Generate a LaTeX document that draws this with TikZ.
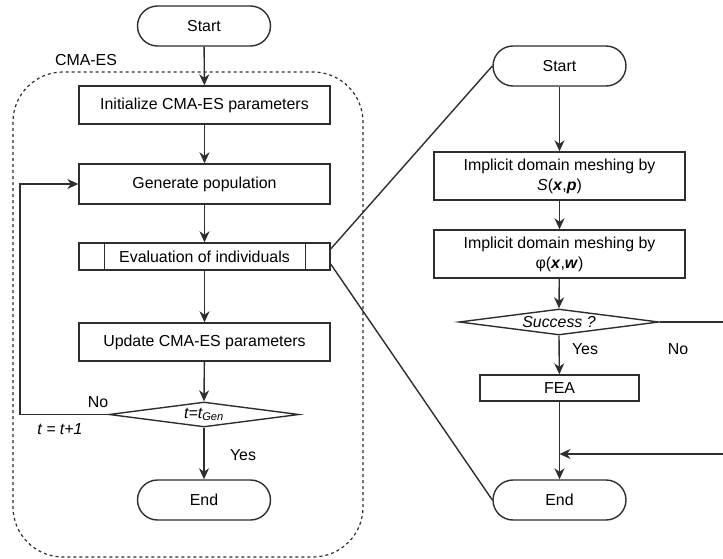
\documentclass[tikz,border=0pt]{standalone}
\usepackage{fontspec}
\setmainfont{Liberation Sans}
\usetikzlibrary{shapes.geometric,arrows.meta}
\begin{document}
\begin{tikzpicture}[x=1pt,y=-1pt,
 every node/.style={font=\fontsize{15.9}{20}\selectfont, text=black},
 ln/.style={draw=black!82, line width=1.4pt},
 arr/.style={ln, -{Stealth[length=11pt,width=10pt,inset=3.5pt]}},
 term/.style={ln, rectangle, rounded corners=20pt, minimum width=133pt, minimum height=40pt, inner sep=0pt},
 proc/.style={ln, rectangle, minimum width=251pt, minimum height=38pt, inner sep=0pt, align=center},
 dia/.style={ln, diamond, inner sep=0pt},
 lab/.style={inner sep=0pt},
]
\useasboundingbox (0,0) rectangle (723,559);
% container
\draw[draw=black!82, line width=1.2pt, dash pattern=on 3pt off 3pt, rounded corners=50pt] (13,72) rectangle (363,557);
\node[lab] (cma) at (86,60) {CMA-ES};
% left column
\node[term] (s1) at (204,26) {Start};
\node[proc] (init) at (204.5,105) {Initialize CMA-ES parameters};
\node[proc, minimum height=40pt] (gen) at (204.5,184) {Generate population};
\node[proc, minimum height=27pt] (eval) at (204.5,256.5) {Evaluation of individuals};
\draw[ln] ([xshift=26pt]eval.north west) -- ([xshift=26pt]eval.south west);
\draw[ln] ([xshift=-25pt]eval.north east) -- ([xshift=-25pt]eval.south east);
\node[proc] (upd) at (204.5,342) {Update CMA-ES parameters};
\node[dia, minimum width=190pt, minimum height=25pt] (d1) at (204,414.5) {};
\node[lab] (d1t) at (d1) {\textit{t=t\textsubscript{Gen}}};
\node[term] (end1) at (204,500) {End};
\coordinate (lp) at (20,414.5);
\draw[arr] (s1) -- (init);
\draw[arr] (init) -- (gen);
\draw[arr] (gen) -- (eval);
\draw[arr] (eval) -- (upd);
\draw[arr] (upd) -- (d1.north);
\draw[arr] (d1.south) -- (end1);
\draw[arr] (d1.west) -- (lp) |- (gen.west);
\node[lab] (no1) at (98,402) {No};
\node[lab] (tt) at (60,429) {\textit{t = t+1}};
\node[lab] (yes1) at (243,455) {Yes};
% right column
\node[term] (s2) at (559.5,66) {Start};
\node[proc, minimum height=48pt] (b1) at (559.5,176) {Implicit domain meshing by\\\textit{S}(\textbf{\textit{x}},\textbf{\textit{p}})};
\node[proc, minimum height=48pt] (b2) at (559.5,254) {Implicit domain meshing by\\φ(\textbf{\textit{x}},\textbf{\textit{w}})};
\node[dia, minimum width=200pt, minimum height=26pt] (d2) at (559,322) {};
\node[lab] (d2t) at (d2) {\textit{Success ?}};
\node[proc, minimum width=159pt, minimum height=26pt] (fea) at (559.5,388) {FEA};
\node[term] (end2) at (559.5,500) {End};
\coordinate (r1) at (730,322);
\coordinate (r2) at (730,454);
\coordinate (j) at (559.5,454);
\draw[arr] (s2) -- (b1);
\draw[arr] (b1) -- (b2);
\draw[arr] (b2) -- (d2.north);
\draw[arr] (d2.south) -- (fea);
\draw[arr] (fea) -- (end2);
\draw[arr] (d2.east) -- (r1) -- (r2) -- (j);
\node[lab] (yes2) at (585,349) {Yes};
\node[lab] (no2) at (678,349) {No};
% zoom connectors
\draw[ln] ([yshift=7.5pt]eval.east) -- (s2.west);
\draw[ln] ([yshift=-7.5pt]eval.east) -- (end2.west);
\end{tikzpicture}
\end{document}
